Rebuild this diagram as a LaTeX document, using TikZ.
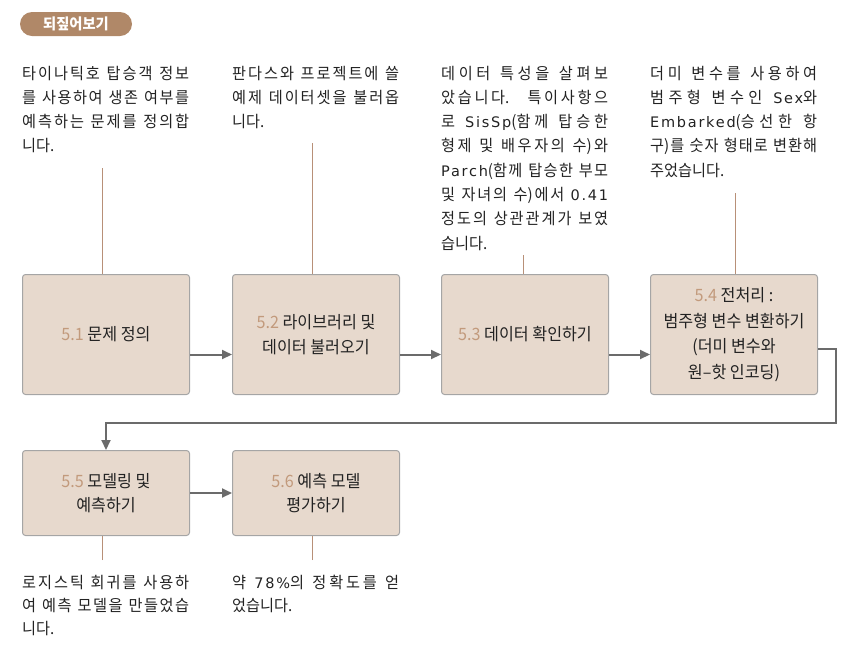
\documentclass[tikz,border=0pt]{standalone}
\usepackage{fontspec}
\setmainfont[FakeStretch=0.95]{Noto Sans CJK KR}
\newfontfamily\latf[LetterSpace=12]{DejaVu Sans}
\XeTeXlinebreaklocale "ko"
\XeTeXlinebreakskip=0pt plus 1pt
\usetikzlibrary{arrows.meta}
\definecolor{boxfill}{HTML}{E7D9CD}
\definecolor{boxdraw}{HTML}{A5A5A5}
\definecolor{badgebrown}{HTML}{B08868}
\definecolor{connbrown}{HTML}{B89078}
\definecolor{numcol}{HTML}{C29A7C}
\definecolor{txt}{HTML}{222222}
\definecolor{arr}{HTML}{6B6B6B}
\newcommand{\nm}[1]{\textcolor{numcol}{#1}}
\newcommand{\lw}[1]{{\latf\fontsize{14.5}{14.5}\selectfont #1}}
\tikzset{
  stepbox/.style={draw=boxdraw, line width=1pt, fill=boxfill, rounded corners=3pt,
    anchor=north west, minimum width=167pt, inner sep=2pt, align=center, text=txt,
    font=\fontsize{17}{24.5}\selectfont},
  desc/.style={anchor=base west, text width=167pt, inner sep=0pt, align=justify, text=txt,
    font=\fontsize{16}{24.3}\selectfont},
  descb/.style={desc, font=\fontsize{16}{23.3}\selectfont},
  conn/.style={draw=connbrown, line width=1pt},
  flow/.style={draw=arr, line width=2pt, -{Triangle[length=10pt,width=9pt]}}
}
\begin{document}
\begin{tikzpicture}[x=1pt,y=-1pt]
\useasboundingbox (0,0) rectangle (856,657);
% badge
\node[fill=badgebrown, rounded corners=12pt, minimum width=112pt, minimum height=24pt,
  inner sep=0pt, text=white, font=\fontsize{15}{15}\selectfont\bfseries] (badge) at (76,24) {되짚어보기};
% boxes
\node[stepbox, minimum height=120pt] (b1) at (22,274) {\nm{5.1} 문제 정의};
\node[stepbox, minimum height=120pt] (b2) at (232,274) {\nm{5.2} 라이브러리 및\\데이터 불러오기};
\node[stepbox, minimum height=120pt] (b3) at (441,274) {\nm{5.3} 데이터 확인하기};
\node[stepbox, minimum height=120pt, font=\fontsize{17}{25.5}\selectfont] (b4) at (650,274) {\nm{5.4} 전처리 :\\범주형 변수 변환하기\\(더미 변수와\\원–핫 인코딩)};
\node[stepbox, minimum height=85pt] (b5) at (22,450) {\nm{5.5} 모델링 및\\예측하기};
\node[stepbox, minimum height=85pt] (b6) at (232,450) {\nm{5.6} 예측 모델\\평가하기};
% descriptions
\node[desc] (t1) at (22,79) {타이나틱호 탑승객 정보\linebreak{}를 사용하여 생존 여부를\linebreak{}예측하는 문제를 정의합\linebreak{}니다.};
\node[desc] (t2) at (232,79) {판다스와 프로젝트에 쓸\linebreak{}예제 데이터셋을 불러옵\linebreak{}니다.};
\node[desc] (t3) at (441,79) {데이터 특성을 살펴보\linebreak{}았습니다. 특이사항으\linebreak{}로 \lw{SisSp}(함께 탑승한\linebreak{}형제 및 배우자의 수)와\linebreak{}\lw{Parch}(함께 탑승한 부모\linebreak{}및 자녀의 수)에서 \lw{0.41}\linebreak{}정도의 상관관계가 보였\linebreak{}습니다.};
\node[desc] (t4) at (650,79) {더미 변수를 사용하여\linebreak{}범주형 변수인 \lw{Sex}와\linebreak{}\lw{Embarked}(승선한 항\linebreak{}구)를 숫자 형태로 변환해\linebreak{}주었습니다.};
\node[descb] (t5) at (22,588) {로지스틱 회귀를 사용하\linebreak{}여 예측 모델을 만들었습\linebreak{}니다.};
\node[descb] (t6) at (232,588) {약 \lw{78\%}의 정확도를 얻\linebreak{}었습니다.};
% connector ends
\coordinate (c1) at (102,168);
\coordinate (c2) at (312,143);
\coordinate (c3) at (523,255);
\coordinate (c4) at (735,193);
\coordinate (c5) at (102,560);
\coordinate (c6) at (312,560);
\draw[conn] (c1) -- (c1 |- b1.north);
\draw[conn] (c2) -- (c2 |- b2.north);
\draw[conn] (c3) -- (c3 |- b3.north);
\draw[conn] (c4) -- (c4 |- b4.north);
\draw[conn] (c5) -- (c5 |- b5.south);
\draw[conn] (c6) -- (c6 |- b6.south);
% flow arrows
\draw[flow] ([yshift=-20pt]b1.east) -- ([yshift=-20pt]b2.west);
\draw[flow] ([yshift=-20pt]b2.east) -- ([yshift=-20pt]b3.west);
\draw[flow] ([yshift=-20pt]b3.east) -- ([yshift=-20pt]b4.west);
\draw[flow] ([yshift=-14pt]b4.east) -- ++(18,0) |- ([yshift=27pt]b5.north) -- (b5.north);
\draw[flow] (b5.east) -- (b6.west);
\end{tikzpicture}
\end{document}
